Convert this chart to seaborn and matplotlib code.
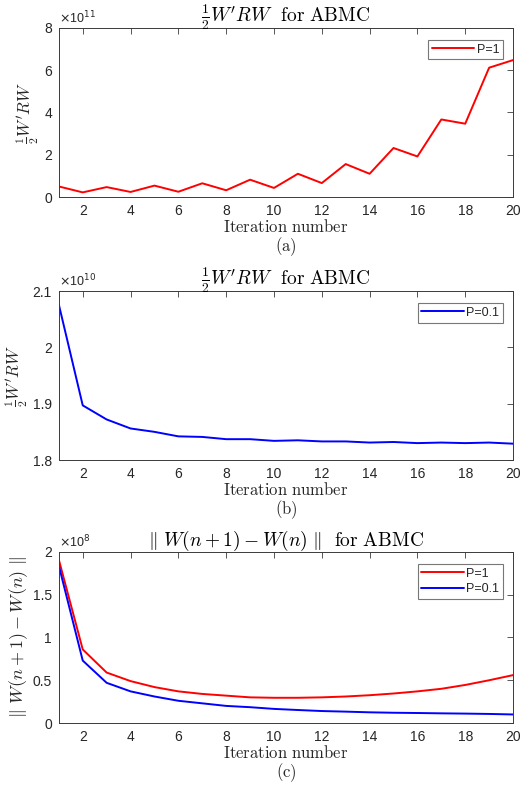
import numpy as np
import pandas as pd
import matplotlib
matplotlib.use("Agg")
import matplotlib.pyplot as plt
import seaborn as sns
from matplotlib.ticker import FuncFormatter, FixedLocator

iterations = list(range(1, 21))
# Panel (a): 1/2 W'RW, P=1 (units of 1e11)
wrw_p1 = [0.50, 0.22, 0.47, 0.24, 0.54, 0.25, 0.65, 0.32, 0.82, 0.43,
          1.10, 0.66, 1.56, 1.10, 2.32, 1.92, 3.67, 3.47, 6.12, 6.48]
# Panel (b): 1/2 W'RW, P=0.1 (units of 1e10)
wrw_p01 = [2.076, 1.897, 1.872, 1.856, 1.850, 1.842, 1.841, 1.837, 1.837, 1.834,
           1.835, 1.833, 1.833, 1.831, 1.832, 1.830, 1.831, 1.830, 1.831, 1.829]
# Panel (c): ||W(n+1)-W(n)|| (units of 1e8)
dw_p1 = [1.91, 0.86, 0.59, 0.49, 0.42, 0.37, 0.34, 0.32, 0.30, 0.295,
         0.295, 0.30, 0.31, 0.325, 0.345, 0.37, 0.40, 0.445, 0.50, 0.56]
dw_p01 = [1.84, 0.73, 0.47, 0.37, 0.31, 0.26, 0.23, 0.20, 0.185, 0.165,
          0.152, 0.14, 0.133, 0.125, 0.12, 0.117, 0.113, 0.11, 0.106, 0.10]

xticks = [2, 4, 6, 8, 10, 12, 14, 16, 18, 20]
yticks_a = [0, 2, 4, 6, 8]
yticks_b = [1.8, 1.9, 2.0, 2.1]
yticks_c = [0, 0.5, 1, 1.5, 2]

sns.set_theme(style="white")
plt.rcParams['font.family'] = ['Liberation Sans', 'DejaVu Sans']
plt.rcParams['mathtext.fontset'] = 'cm'
plt.rcParams['axes.unicode_minus'] = False

AX_COL = '#3a3a3a'

fig = plt.figure(figsize=(5.3, 7.9), dpi=100)
positions = [
    [0.111, 0.7506, 0.857, 0.2140],
    [0.111, 0.4177, 0.857, 0.2139],
    [0.111, 0.0848, 0.857, 0.2165],
]

title_wrw = r"$\frac{1}{2}W'RW\ \ \mathrm{for\ ABMC}$"
title_dw = r"$\Vert\ W(n+1)-W(n)\ \Vert\ \ \mathrm{for\ ABMC}$"
ylab_wrw = r"$\frac{1}{2}W'RW$"
ylab_dw = r"$\Vert\ W(n+1)-W(n)\ \Vert$"


def style_ax(ax, scale, yticks, ylim, exp, title, ylabel, caption, ylab_size=12):
    ax.set_xlim(1, 20)
    ax.set_ylim(ylim[0] * scale, ylim[1] * scale)
    ax.xaxis.set_major_locator(FixedLocator(xticks))
    ax.yaxis.set_major_locator(FixedLocator([v * scale for v in yticks]))
    ax.yaxis.set_major_formatter(FuncFormatter(lambda v, p: f"{round(v / scale, 6):g}"))
    ax.tick_params(direction='in', length=4, width=0.6, top=True, right=True,
                   colors=AX_COL, labelsize=10, labelcolor='#262626', pad=5)
    for s in ax.spines.values():
        s.set_color(AX_COL)
        s.set_linewidth(0.7)
        s.set_visible(True)
    ax.set_title(title, fontsize=14, pad=4, color='black')
    ax.set_ylabel(ylabel, fontsize=ylab_size, labelpad=2)
    ax.set_xlabel(r"$\mathrm{Iteration\ number}$", fontsize=12, labelpad=0)
    ax.text(0.0, 1.012, r"$\times$10$^{%d}$" % exp, transform=ax.transAxes,
            ha='left', va='bottom', fontsize=9, color='#262626',
            family='Liberation Sans', math_fontfamily='dejavusans')
    ax.text(0.5, -0.225, caption, transform=ax.transAxes, ha='center', va='top',
            fontsize=12)
    h_ax = ax.get_position().height * 790
    leg = ax.legend(loc='upper right', fontsize=9, frameon=True, fancybox=False,
                    handlelength=3.4, handletextpad=0.2, borderpad=0.3,
                    borderaxespad=0.0, labelspacing=0.3,
                    bbox_to_anchor=(1 - 10 / 454, 1 - 12 / h_ax))
    leg.get_frame().set_edgecolor('#555555')
    leg.get_frame().set_linewidth(0.8)


# (a)
ax1 = fig.add_axes(positions[0])
df_a = pd.DataFrame({'it': iterations, 'val': np.array(wrw_p1) * 1e11})
sns.lineplot(data=df_a, x='it', y='val', ax=ax1, color='#ff0000', lw=1.4, label='P=1')
style_ax(ax1, 1e11, yticks_a, (0, 8), 11, title_wrw, ylab_wrw, r"$\mathrm{(a)}$")

# (b)
ax2 = fig.add_axes(positions[1])
df_b = pd.DataFrame({'it': iterations, 'val': np.array(wrw_p01) * 1e10})
sns.lineplot(data=df_b, x='it', y='val', ax=ax2, color='#0000ff', lw=1.4, label='P=0.1')
style_ax(ax2, 1e10, yticks_b, (1.8, 2.1), 10, title_wrw, ylab_wrw, r"$\mathrm{(b)}$")

# (c)
ax3 = fig.add_axes(positions[2])
df_c = pd.DataFrame({'it': iterations * 2,
                     'val': np.concatenate([np.array(dw_p1), np.array(dw_p01)]) * 1e8,
                     'series': ['P=1'] * 20 + ['P=0.1'] * 20})
sns.lineplot(data=df_c, x='it', y='val', hue='series', ax=ax3,
             palette={'P=1': '#ff0000', 'P=0.1': '#0000ff'}, lw=1.4)
style_ax(ax3, 1e8, yticks_c, (0, 2), 8, title_dw, ylab_dw, r"$\mathrm{(c)}$", ylab_size=13)

fig.savefig('out.png', dpi=100)
